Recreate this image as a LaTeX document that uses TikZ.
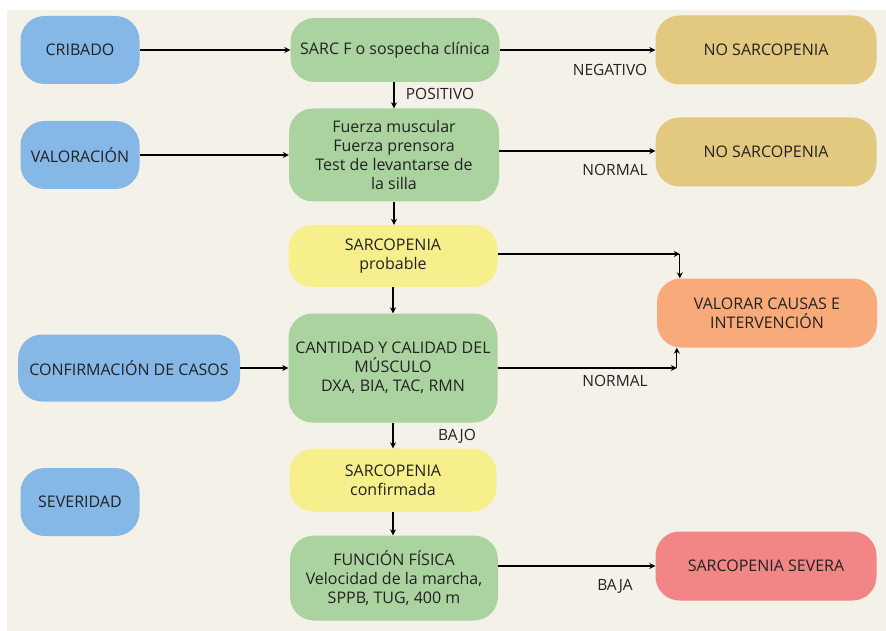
\documentclass[tikz,border=0pt]{standalone}
\usepackage{fontspec}
\setmainfont{Open Sans}
\usetikzlibrary{arrows.meta}

\definecolor{paper}{HTML}{F4F1E9}
\definecolor{stage}{HTML}{85B8E6}
\definecolor{test}{HTML}{AAD3A0}
\definecolor{neg}{HTML}{E3C980}
\definecolor{result}{HTML}{F7EF8C}
\definecolor{action}{HTML}{F8AA7A}
\definecolor{severe}{HTML}{F28585}
\definecolor{ink}{HTML}{222222}

\begin{document}
\begin{tikzpicture}[x=1pt,y=-1pt,
  box/.style={rounded corners=24pt, align=center, inner sep=0pt,
    font=\fontsize{16}{19}\selectfont, text=ink},
  arr/.style={line width=1.3pt, draw=black, -{Stealth[length=6pt,width=6pt]}},
  lbl/.style={font=\fontsize{15.5}{18}\selectfont, text=ink, inner sep=0pt}]
\useasboundingbox (0,0) rectangle (886,631);
\fill[white] (0,0) rectangle (886,631);
\fill[paper] (7,10) rectangle (886,631);

% stage labels (left column)
\node[box, fill=stage, minimum width=119pt, minimum height=68pt] (crib) at (80,50) {CRIBADO};
\node[box, fill=stage, minimum width=119pt, minimum height=68pt] (valo) at (80,155) {VALORACIÓN};
\node[box, fill=stage, minimum width=222pt, minimum height=67pt] (conf) at (129,368) {CONFIRMACIÓN DE CASOS};
\node[box, fill=stage, minimum width=119pt, minimum height=68pt] (seve) at (80,502) {SEVERIDAD};

% central column
\node[box, fill=test, minimum width=209pt, minimum height=64pt] (sarc) at (395,50) {SARC F o sospecha clínica};
\node[box, fill=test, minimum width=210pt, minimum height=93pt] (fuer) at (394,155)
  {Fuerza muscular\\Fuerza prensora\\Test de levantarse de\\la silla};
\node[box, fill=result, minimum width=209pt, minimum height=62pt] (prob) at (393,256) {SARCOPENIA\\probable};
\node[box, fill=test, minimum width=209pt, minimum height=109pt] (cant) at (393,368)
  {CANTIDAD Y CALIDAD DEL\\MÚSCULO\\DXA, BIA, TAC, RMN};
\node[box, fill=result, minimum width=207pt, minimum height=63pt] (conm) at (393,480) {SARCOPENIA\\confirmada};
\node[box, fill=test, minimum width=208pt, minimum height=85pt] (func) at (394,578)
  {FUNCIÓN FÍSICA\\Velocidad de la marcha,\\SPPB, TUG, 400 m};

% outcomes (right column)
\node[box, fill=neg, minimum width=221pt, minimum height=69pt] (nos1) at (766,50) {NO SARCOPENIA};
\node[box, fill=neg, minimum width=221pt, minimum height=69pt] (nos2) at (766,152) {NO SARCOPENIA};
\node[box, fill=action, minimum width=220pt, minimum height=69pt] (valc) at (767,313) {VALORAR CAUSAS E\\INTERVENCIÓN};
\node[box, fill=severe, minimum width=221pt, minimum height=69pt] (sevs) at (766,566) {SARCOPENIA SEVERA};

% horizontal connectors
\draw[arr] (crib) -- (sarc);
\draw[arr] (sarc) -- (nos1);
\draw[arr] (valo.east) -- (fuer.west);
\draw[arr] ([yshift=4pt]fuer.east) -- ([yshift=4pt]fuer.east -| nos2.west);
\draw[arr] (conf) -- (cant);
\draw[arr] (func.east |- sevs.west) -- (sevs.west);

% vertical connectors
\draw[arr] (sarc.south -| fuer.north) -- (fuer.north);
\draw[arr] (fuer.south) -- (fuer.south |- prob.north);
\draw[arr] (prob.south) -- (cant.north);
\draw[arr] (cant.south) -- (conm.north);
\draw[arr] (conm.south) -- (conm.south |- func.north);

% routes to the causes box
\coordinate (k0) at ([yshift=2pt]prob.east);
\coordinate (k1) at ([xshift=23pt]k0 -| valc.west);
\draw[arr] (k0) -- (k1);
\draw[arr] (k1) -- (k1 |- valc.north);
\coordinate (k2) at ([xshift=20pt]cant.east -| valc.west);
\draw[arr] (cant.east) -- (k2);
\draw[arr] (k2) -- (k2 |- valc.south);

% connector labels
\node[lbl] (lneg) at (610,70) {NEGATIVO};
\node[lbl] (lpos) at (440,94) {POSITIVO};
\node[lbl] (lnor1) at (615,170) {NORMAL};
\node[lbl] (lnor2) at (615,381) {NORMAL};
\node[lbl] (lbajo) at (457,436) {BAJO};
\node[lbl] (lbaja) at (615,586) {BAJA};
\end{tikzpicture}
\end{document}
